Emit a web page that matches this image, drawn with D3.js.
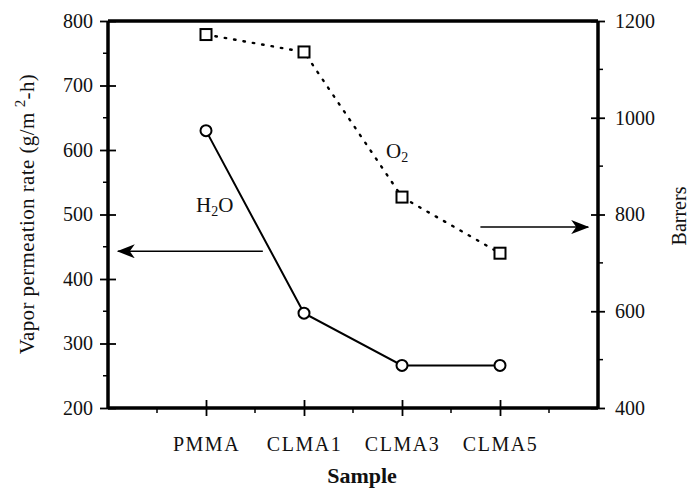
<!DOCTYPE html>
<html><head><meta charset="utf-8">
<script src="https://cdn.jsdelivr.net/npm/d3@7"></script>
<style>body{margin:0;background:#fff}svg{display:block}text{font-family:"Liberation Serif","Times New Roman",serif;fill:#111}</style>
</head><body>
<script>
const categories = ["PMMA","CLMA1","CLMA3","CLMA5"];
const h2oValues = [630, 347, 266, 266];
const o2Values = [1172, 1136, 836, 720];
const leftTicks = [200,300,400,500,600,700,800];
const leftMinor = [250,350,450,550,650,750];
const rightTicks = [400,600,800,1000,1200];
const rightMinor = [500,700,900,1100];

const W = 691, H = 492;
const m = {l:108, r:598, t:21, b:408};
const svg = d3.select("body").append("svg").attr("width",W).attr("height",H);

const x = d3.scaleLinear().domain([-1,4]).range([m.l,m.r]);
const yL = d3.scaleLinear().domain([200,800]).range([m.b,m.t]);
const yR = d3.scaleLinear().domain([400,1200]).range([m.b,m.t]);

svg.append("line").attr("x1",m.l).attr("x2",m.r).attr("y1",m.t).attr("y2",m.t)
  .attr("stroke","#000").attr("stroke-width",3.5);

// Left axis
const gL = svg.append("g").attr("transform",`translate(${m.l},0)`);
gL.call(d3.axisLeft(yL).tickValues(leftTicks).tickSize(8).tickFormat(d3.format("d")));
gL.selectAll(".tick line").attr("x2",8).attr("x1",-8).attr("stroke-width",1.8);
gL.selectAll(".tick text").attr("x",-15).style("font-size","20px").style("font-family","Liberation Serif");
gL.select(".domain").attr("stroke-width",3.5).attr("d",`M0,${m.b}V${m.t}`);
gL.selectAll(".minor").data(leftMinor).join("line").attr("class","minor")
  .attr("x1",-5).attr("x2",0).attr("y1",d=>yL(d)).attr("y2",d=>yL(d)).attr("stroke","#000").attr("stroke-width",1.5);

// Right axis
const gR = svg.append("g").attr("transform",`translate(${m.r},0)`);
gR.call(d3.axisRight(yR).tickValues(rightTicks).tickSize(8).tickFormat(d3.format("d")));
gR.selectAll(".tick line").attr("x1",-7).attr("x2",7).attr("stroke-width",1.8);
gR.selectAll(".tick text").attr("x",17).style("font-size","20px").style("font-family","Liberation Serif");
gR.select(".domain").attr("stroke-width",3.5).attr("d",`M0,${m.b}V${m.t}`);
gR.selectAll(".minor").data(rightMinor).join("line").attr("class","minor")
  .attr("x1",0).attr("x2",5).attr("y1",d=>yR(d)).attr("y2",d=>yR(d)).attr("stroke","#000").attr("stroke-width",1.5);

// Bottom axis
const gB = svg.append("g").attr("transform",`translate(0,${m.b})`);
gB.call(d3.axisBottom(x).tickValues(d3.range(categories.length)).tickSize(8).tickFormat(i=>categories[i]));
gB.selectAll(".tick line").attr("y1",-8).attr("y2",8).attr("stroke-width",1.8);
gB.selectAll(".tick text").attr("y",29).style("font-size","20px").style("font-family","Liberation Serif").attr("letter-spacing","1.5");
gB.select(".domain").attr("stroke-width",3.5).attr("d",`M${m.l},0H${m.r}`);
gB.selectAll(".minor").data([-0.5,0.5,1.5,2.5,3.5]).join("line").attr("class","minor")
  .attr("x1",d=>x(d)).attr("x2",d=>x(d)).attr("y1",0).attr("y2",5).attr("stroke","#000").attr("stroke-width",1.5);

// Axis titles
const lt = svg.append("text").attr("transform",`translate(34,214) rotate(-90)`).attr("text-anchor","middle").style("font-size","21px").attr("letter-spacing","0.4");
lt.append("tspan").text("Vapor permeation rate (g/m");
lt.append("tspan").attr("dy",-9).attr("dx",5).style("font-size","15px").text("2");
lt.append("tspan").attr("dy",9).text("-h)");
svg.append("text").attr("transform",`translate(686,216) rotate(-90)`).attr("text-anchor","middle").style("font-size","20px").text("Barrers");
svg.append("text").attr("x",362).attr("y",483).attr("text-anchor","middle").style("font-size","22px").style("font-weight","bold").text("Sample");

// H2O series
const lineL = d3.line().x((d,i)=>x(i)).y(d=>yL(d));
svg.append("path").attr("d",lineL(h2oValues)).attr("fill","none").attr("stroke","#000").attr("stroke-width",2);
svg.selectAll(".c").data(h2oValues).join("circle").attr("class","c")
  .attr("cx",(d,i)=>x(i)).attr("cy",d=>yL(d)).attr("r",5.5).attr("fill","#fff").attr("stroke","#000").attr("stroke-width",2);

// O2 series
const lineR = d3.line().x((d,i)=>x(i)).y(d=>yR(d));
svg.append("path").attr("d",lineR(o2Values)).attr("fill","none").attr("stroke","#000").attr("stroke-width",2.4)
  .attr("stroke-dasharray","1.5,8").attr("stroke-linecap","round");
svg.selectAll(".s").data(o2Values).join("rect").attr("class","s")
  .attr("x",(d,i)=>x(i)-5.5).attr("y",d=>yR(d)-5.5).attr("width",11).attr("height",11)
  .attr("fill","#fff").attr("stroke","#000").attr("stroke-width",2);

// Labels
const hl = svg.append("text").attr("x",196).attr("y",212).style("font-size","21px");
hl.append("tspan").text("H");
hl.append("tspan").attr("dy",4).style("font-size","14px").text("2");
hl.append("tspan").attr("dy",-4).text("O");
const ol = svg.append("text").attr("x",386).attr("y",158).style("font-size","21px");
ol.append("tspan").text("O");
ol.append("tspan").attr("dy",4).style("font-size","14px").text("2");

// Arrows
const defs = svg.append("defs");
defs.append("marker").attr("id","ah").attr("viewBox","0 0 18 14").attr("refX",17).attr("refY",7)
  .attr("markerWidth",18).attr("markerHeight",14).attr("markerUnits","userSpaceOnUse").attr("orient","auto")
  .append("path").attr("d","M0,0 L18,7 L0,14 L5,7 Z").attr("fill","#000");
const arrows = [
  {from:[0.58,443], to:[-0.9,443], axis:"L"},
  {from:[2.8,774], to:[3.9,774], axis:"R"}
];
arrows.forEach(a=>{
  const ys = a.axis==="L"?yL:yR;
  svg.append("line").attr("x1",x(a.from[0])).attr("y1",ys(a.from[1])).attr("x2",x(a.to[0])).attr("y2",ys(a.to[1]))
    .attr("stroke","#000").attr("stroke-width",1.5).attr("marker-end","url(#ah)");
});
</script>
</body></html>
